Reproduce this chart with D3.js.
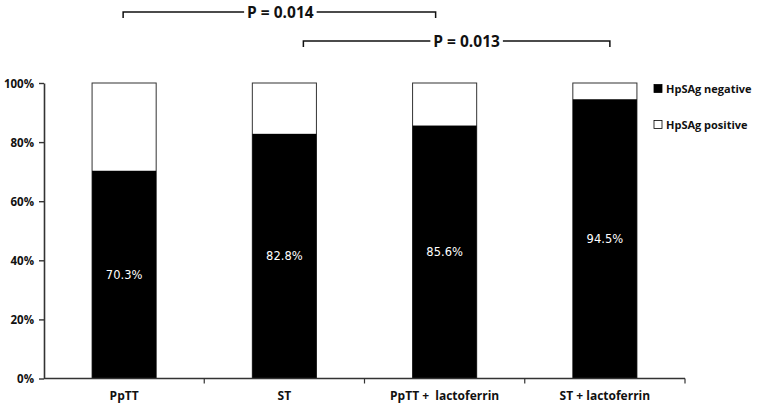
<!DOCTYPE html>
<html>
<head>
<meta charset="utf-8">
<script src="https://cdn.jsdelivr.net/npm/d3@7"></script>
<style>
  body { margin: 0; background: #fff; }
  svg { display: block; }
  .lbl { font-family: "Open Sans", "Liberation Sans", sans-serif; font-weight: 700; font-size: 11px; fill: #111; white-space: pre; }
</style>
</head>
<body>
<svg id="c" width="758" height="405"></svg>
<script>
const groups   = ['PpTT', 'ST', 'PpTT +  lactoferrin', 'ST + lactoferrin'];
const negative = [70.3, 82.8, 85.6, 94.5];
const yTicks   = [0, 20, 40, 60, 80, 100];
const legend   = ['HpSAg negative', 'HpSAg positive'];
const pvals    = [{ a: 0, b: 2, p: 'P = 0.014' }, { a: 1, b: 3, p: 'P = 0.013' }];

const svg = d3.select('#c');
const x = d3.scaleBand().domain(groups).range([44, 685]).paddingInner(0.6).paddingOuter(0.3);
const y = d3.scaleLinear().domain([0, 100]).range([378.5, 83]);
const step = x.step();

// positive part (white) and negative part (black)
svg.append('g').selectAll('rect').data(groups).join('rect')
  .attr('x', d => x(d)).attr('width', x.bandwidth())
  .attr('y', y(100)).attr('height', y(0) - y(100))
  .attr('fill', '#fff').attr('stroke', '#333').attr('stroke-width', 1);
svg.append('g').selectAll('rect').data(groups).join('rect')
  .attr('x', d => x(d)).attr('width', x.bandwidth())
  .attr('y', (d, i) => y(negative[i])).attr('height', (d, i) => y(0) - y(negative[i]))
  .attr('fill', '#000');

svg.append('g').selectAll('text').data(groups).join('text')
  .attr('x', d => x(d) + x.bandwidth() / 2)
  .attr('y', (d, i) => (y(negative[i]) + y(0)) / 2 + 4)
  .attr('text-anchor', 'middle')
  .style('font-family', '"DejaVu Sans", sans-serif').style('font-size', '11.5px').attr('fill', '#fff')
  .text((d, i) => negative[i].toFixed(1) + '%');

// y axis
const ya = svg.append('g').attr('transform', 'translate(44,0)')
  .call(d3.axisLeft(y).tickValues(yTicks).tickFormat(d => d + '%').tickSize(5).tickSizeOuter(0));
ya.select('.domain').attr('stroke', '#333').attr('stroke-width', 1.6);
ya.selectAll('.tick line').attr('stroke', '#333').attr('stroke-width', 1.4);
ya.selectAll('.tick text').attr('class', 'lbl').style('font-size', '11.5px').attr('x', -10).attr('dy', '0.35em');

// x axis: line with ticks at band boundaries
const xa = svg.append('g');
xa.append('line').attr('x1', 44).attr('x2', 685).attr('y1', y(0)).attr('y2', y(0))
  .attr('stroke', '#333').attr('stroke-width', 1.6);
xa.selectAll('line.t').data(groups.slice(1).concat(['end'])).join('line').attr('class', 't')
  .attr('x1', (d, i) => 44 + step * (i + 1)).attr('x2', (d, i) => 44 + step * (i + 1))
  .attr('y1', y(0)).attr('y2', y(0) + 5).attr('stroke', '#333').attr('stroke-width', 1.2);
xa.selectAll('text').data(groups).join('text').attr('class', 'lbl')
  .style('font-size', '12px')
  .attr('x', d => x(d) + x.bandwidth() / 2).attr('y', y(0) + 21)
  .attr('text-anchor', 'middle').text(d => d);

// legend
const lg = svg.append('g').selectAll('g').data(legend).join('g')
  .attr('transform', (d, i) => `translate(654,${89 + i * 36})`);
lg.append('rect').attr('x', 0).attr('y', -4.5).attr('width', 8).attr('height', 8)
  .attr('fill', (d, i) => i ? '#fff' : '#000').attr('stroke', '#000').attr('stroke-width', 0.8);
lg.append('text').attr('class', 'lbl').attr('x', 12).attr('y', 4).text(d => d);

// significance brackets
const bx = [[-1, -9], [19, 5]];
const by = [12, 41];
const tOff = [1, 10];
pvals.forEach((s, i) => {
  const x1 = x(groups[s.a]) + x.bandwidth() / 2 + bx[i][0];
  const x2 = x(groups[s.b]) + x.bandwidth() / 2 + bx[i][1];
  const xm = (x1 + x2) / 2 + tOff[i];
  const t = svg.append('text').attr('x', xm).attr('y', by[i] + 5.5).attr('text-anchor', 'middle')
    .style('font-family', '"Open Sans", "Liberation Sans", sans-serif').style('font-weight', 700)
    .style('font-size', '15.5px').attr('fill', '#111').text(s.p);
  const half = t.node().getComputedTextLength() / 2 + 3;
  const g = svg.append('g').attr('fill', 'none').attr('stroke', '#111').attr('stroke-width', 1.5);
  g.append('path').attr('d', `M${x1},${by[i] + 6}V${by[i]}H${xm - half}`);
  g.append('path').attr('d', `M${xm + half},${by[i]}H${x2}V${by[i] + 6}`);
});
</script>
</body>
</html>
